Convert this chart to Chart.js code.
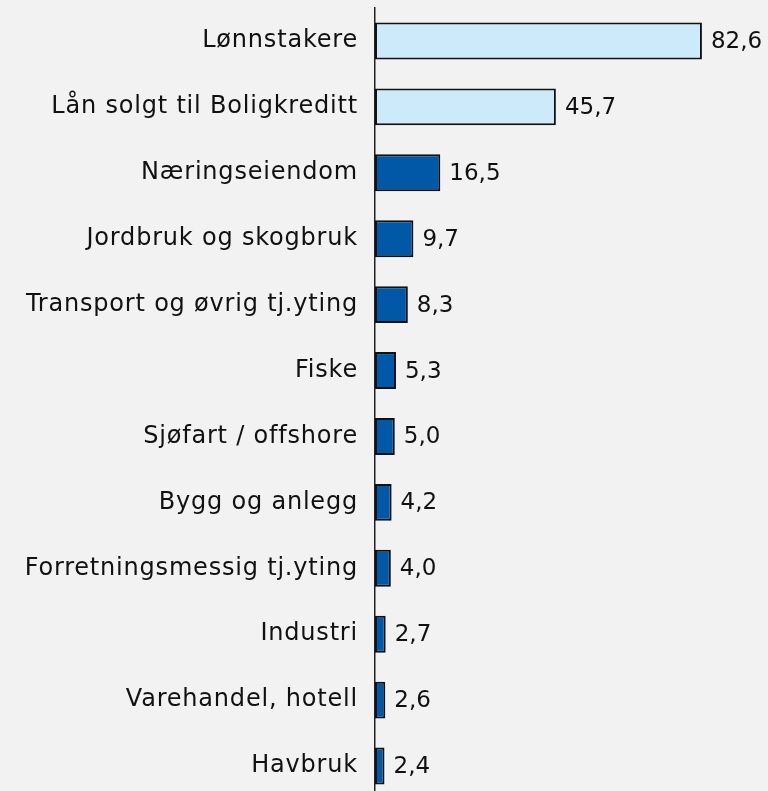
<!DOCTYPE html>
<html>
<head>
<meta charset="utf-8">
<script src="https://cdn.jsdelivr.net/npm/chart.js@4"></script>
<style>
  html, body { margin: 0; padding: 0; background: #f2f2f2; overflow: hidden; }
  #wrap { width: 768px; height: 800px; }
</style>
</head>
<body>
<div id="wrap"><canvas id="myChart"></canvas></div>
<script>
const categories = [
    'Lønnstakere',
    'Lån solgt til Boligkreditt',
    'Næringseiendom',
    'Jordbruk og skogbruk',
    'Transport og øvrig tj.yting',
    'Fiske',
    'Sjøfart / offshore',
    'Bygg og anlegg',
    'Forretningsmessig tj.yting',
    'Industri',
    'Varehandel, hotell',
    'Havbruk'
];
const values = [82.6, 45.7, 16.5, 9.7, 8.3, 5.3, 5.0, 4.2, 4.0, 2.7, 2.6, 2.4];
const lightBlue = '#cdeafb';
const darkBlue = '#0058a6';
const barColors = values.map((v, i) => i < 2 ? lightBlue : darkBlue);

const fontFamily = '"DejaVu Sans", sans-serif';
const fontSize = 24;
const spacing = '0.8px';

// wider letters, closer to the original font
const letterSpacing = {
    id: 'letterSpacing',
    beforeDraw(chart) {
        chart.ctx.letterSpacing = spacing;
    }
};

// writes the value at the end of each bar
const valueLabels = {
    id: 'valueLabels',
    afterDatasetsDraw(chart) {
        const ctx = chart.ctx;
        const meta = chart.getDatasetMeta(0);
        ctx.save();
        ctx.letterSpacing = '0px';
        ctx.font = '23px ' + fontFamily;
        ctx.fillStyle = '#111';
        ctx.textBaseline = 'middle';
        ctx.textAlign = 'left';
        meta.data.forEach((bar, i) => {
            const txt = values[i].toFixed(1).replace('.', ',');
            ctx.fillText(txt, bar.x + 9, bar.y + 1);
        });
        ctx.restore();
    }
};

const ctx = document.getElementById('myChart').getContext('2d');
new Chart(ctx, {
    type: 'bar',
    data: {
        labels: categories,
        datasets: [{
            data: values,
            backgroundColor: barColors,
            borderColor: '#111',
            borderWidth: 2,
            borderSkipped: false,
            categoryPercentage: 1,
            barPercentage: 0.56
        }]
    },
    options: {
        indexAxis: 'y',
        responsive: true,
        maintainAspectRatio: false,
        animation: false,
        layout: { padding: { top: 8, right: 17, bottom: 1, left: 0 } },
        plugins: {
            legend: { display: false },
            tooltip: { enabled: false }
        },
        scales: {
            x: {
                display: false,
                min: 0,
                max: 95
            },
            y: {
                grid: { display: false, drawTicks: false },
                border: { display: true, color: '#222', width: 1.5 },
                ticks: {
                    color: '#111',
                    padding: 17,
                    font: { family: fontFamily, size: fontSize }
                },
                afterFit(scale) {
                    scale.width = 375;
                    scale.paddingTop = 0;
                    scale.paddingBottom = 0;
                }
            }
        }
    },
    plugins: [letterSpacing, valueLabels]
});
</script>
</body>
</html>
